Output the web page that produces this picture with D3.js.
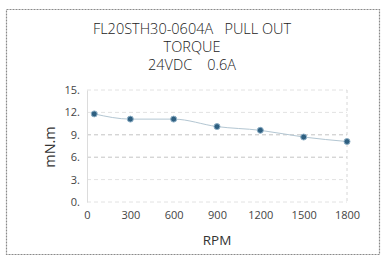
<!DOCTYPE html>
<html>
<head>
<meta charset="utf-8">
<script src="https://cdn.jsdelivr.net/npm/d3@7"></script>
<style>
  body { margin: 0; background: #fff; }
  svg text { font-family: "Open Sans", "Noto Sans", sans-serif; white-space: pre; }
</style>
</head>
<body>
<div id="cont"></div>
<script>
// data
var rpm = [50, 300, 600, 900, 1200, 1500, 1800];
var torque = [11.8, 11.1, 11.1, 10.1, 9.6, 8.7, 8.1];
var xTicks = [0, 300, 600, 900, 1200, 1500, 1800];
var yTicks = [0, 3, 6, 9, 12, 15];
var titleLines = ["FL20STH30-0604A   PULL OUT", "TORQUE", "24VDC    0.6A"];

var width = 382, height = 257;
var svg = d3.select("#cont").append("svg")
  .attr("width", width).attr("height", height);

// outer dashed frame
svg.append("rect")
  .attr("x", 6.5).attr("y", 9.5).attr("width", 373).attr("height", 245)
  .attr("fill", "none").attr("stroke", "#8a8a8a").attr("stroke-width", 1.2)
  .attr("stroke-dasharray", "2,1");

var x = d3.scaleLinear().domain([0, 1800]).range([87, 347]);
var y = d3.scaleLinear().domain([0, 15]).range([202, 90]);

// title
svg.selectAll("text.title").data(titleLines).enter().append("text")
  .attr("class", "title")
  .attr("x", 192).attr("y", function(d, i) { return 34 + i * 18; })
  .attr("text-anchor", "middle")
  .attr("font-size", 14.5).attr("font-weight", 300).attr("fill", "#222")
  .text(function(d) { return d; });

// horizontal grid
svg.append("g").selectAll("line").data(yTicks).enter().append("line")
  .attr("x1", x(0)).attr("x2", x(1800))
  .attr("y1", function(d) { return y(d); }).attr("y2", function(d) { return y(d); })
  .attr("stroke", function(d) { return (d == 6 || d == 9) ? "#c4c4c4" : "#e2e2e2"; })
  .attr("stroke-width", 1)
  .attr("stroke-dasharray", "4,3");

// right dashed edge
svg.append("line")
  .attr("x1", x(1800)).attr("x2", x(1800)).attr("y1", y(15)).attr("y2", y(0))
  .attr("stroke", "#d6d6d6").attr("stroke-dasharray", "3,3");

// y axis
var yAxis = d3.axisLeft(y).tickValues(yTicks).tickSize(0).tickPadding(7)
  .tickFormat(function(d) { return d + "."; });
var gy = svg.append("g").attr("transform", "translate(" + x(0) + ",0)").call(yAxis);
gy.select(".domain").attr("stroke", "#dcdcdc");
gy.selectAll("text").attr("font-size", 11).attr("fill", "#444")
  .attr("font-family", "Open Sans, sans-serif");

// x axis
var xAxis = d3.axisBottom(x).tickValues(xTicks).tickSize(0).tickPadding(9)
  .tickFormat(d3.format("d"));
var gx = svg.append("g").attr("transform", "translate(0," + y(0) + ")").call(xAxis);
gx.select(".domain").remove();
gx.selectAll("text").attr("font-size", 11).attr("fill", "#444")
  .attr("font-family", "Open Sans, sans-serif");

// axis titles
svg.append("text")
  .attr("x", 217).attr("y", 245)
  .attr("text-anchor", "middle").attr("font-size", 13.5).attr("fill", "#333")
  .text("RPM");
svg.append("text")
  .attr("transform", "translate(55,147) rotate(-90)")
  .attr("text-anchor", "middle").attr("font-size", 14.5).attr("fill", "#333")
  .text("mN.m");

// line + markers
var pts = rpm.map(function(d, i) { return [d, torque[i]]; });
var line = d3.line()
  .x(function(d) { return x(d[0]); })
  .y(function(d) { return y(d[1]); })
  .curve(d3.curveMonotoneX);
svg.append("path").datum(pts)
  .attr("d", line).attr("fill", "none")
  .attr("stroke", "#b3c6d2").attr("stroke-width", 1);

svg.append("g").selectAll("circle").data(pts).enter().append("circle")
  .attr("cx", function(d) { return x(d[0]); })
  .attr("cy", function(d) { return y(d[1]); })
  .attr("r", 3)
  .attr("fill", "#2e5f80").attr("stroke", "#8fb0c6").attr("stroke-width", 1);
</script>
</body>
</html>
